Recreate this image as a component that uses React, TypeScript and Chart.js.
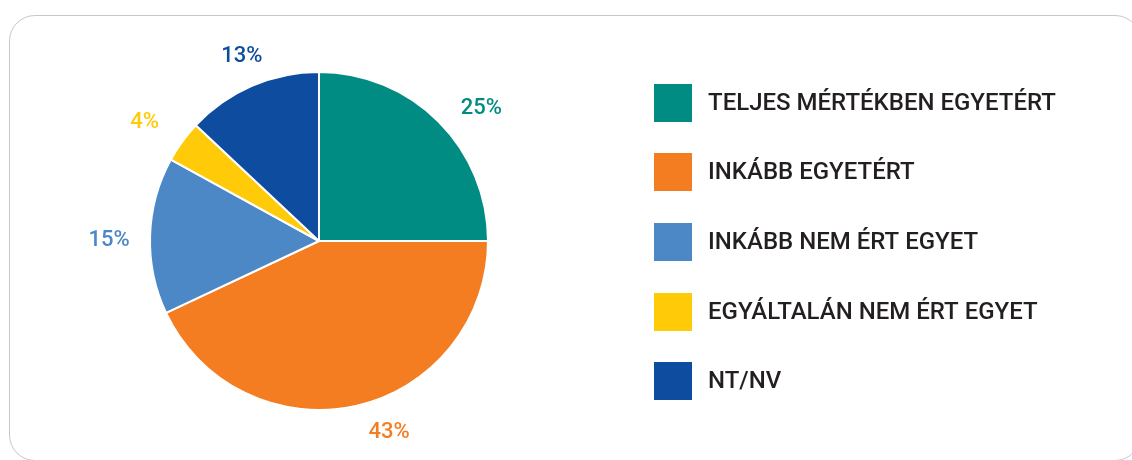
import React, { useEffect, useRef } from "react";
import { Chart, registerables } from "chart.js";

Chart.register(...registerables);

const categories = [
  "TELJES MÉRTÉKBEN EGYETÉRT",
  "INKÁBB EGYETÉRT",
  "INKÁBB NEM ÉRT EGYET",
  "EGYÁLTALÁN NEM ÉRT EGYET",
  "NT/NV",
];
const values = [25, 43, 15, 4, 13];
const colors = ["#008C82", "#F47D22", "#4C87C6", "#FFCA08", "#0E4C9F"];

const FONT = "Roboto, 'DejaVu Sans', sans-serif";

// small manual nudges of the outside labels (px), as in the original layout
const labelNudge: [number, number][] = [
  [16, 14],
  [25, -11],
  [-3, 6],
  [-7, 3],
  [5, 5],
];

const labelPlugin = {
  id: "outerLabels",
  afterDatasetsDraw(chart: any) {
    const ctx = chart.ctx;
    const meta = chart.getDatasetMeta(0);
    ctx.save();
    ctx.font = `500 22px ${FONT}`;
    ctx.textAlign = "center";
    ctx.textBaseline = "middle";
    meta.data.forEach((arc: any, i: number) => {
      const p = arc.getProps(["x", "y", "startAngle", "endAngle", "outerRadius"], true);
      const mid = (p.startAngle + p.endAngle) / 2;
      const r = p.outerRadius + 38;
      const x = p.x + Math.cos(mid) * r + labelNudge[i][0];
      const y = p.y + Math.sin(mid) * r + labelNudge[i][1];
      ctx.fillStyle = colors[i];
      ctx.fillText(`${values[i]}%`, x, y);
    });
    ctx.restore();
  },
};

const legendPlugin = {
  id: "customLegend",
  afterDraw(chart: any) {
    const ctx = chart.ctx;
    ctx.save();
    const x0 = 654;
    const ys = [103, 172, 242, 312, 381];
    categories.forEach((c, i) => {
      ctx.fillStyle = colors[i];
      ctx.fillRect(x0, ys[i] - 19, 38, 38);
      ctx.fillStyle = "#231F20";
      ctx.font = `500 24px ${FONT}`;
      ctx.textAlign = "left";
      ctx.textBaseline = "middle";
      ctx.fillText(c, 708, ys[i] + 1);
    });
    ctx.restore();
  },
};

export default function App() {
  const ref = useRef<HTMLCanvasElement | null>(null);
  useEffect(() => {
    if (!ref.current) return;
    const chart = new Chart(ref.current, {
      type: "pie",
      data: {
        labels: categories,
        datasets: [
          {
            data: values,
            backgroundColor: colors,
            borderColor: "#ffffff",
            borderWidth: 2,
          },
        ],
      },
      options: {
        animation: false,
        responsive: false,
        maintainAspectRatio: false,
        layout: { padding: { left: 149, right: 643, top: 71, bottom: 49 } },
        plugins: {
          legend: { display: false },
          tooltip: { enabled: false },
        },
      },
      plugins: [labelPlugin, legendPlugin],
    });
    return () => chart.destroy();
  }, []);
  return (
    <div style={{ position: "fixed", left: 0, top: 0, width: 1132, height: 460, overflow: "hidden", background: "#fff" }}>
      <div
        style={{
          position: "absolute",
          left: 9,
          top: 15,
          width: 1132,
          height: 446,
          border: "1.5px solid #c8c8c8",
          borderRadius: 26,
          boxSizing: "border-box",
        }}
      />
      <canvas ref={ref} width={1132} height={460} style={{ position: "absolute", left: 0, top: 0 }} />
    </div>
  );
}
